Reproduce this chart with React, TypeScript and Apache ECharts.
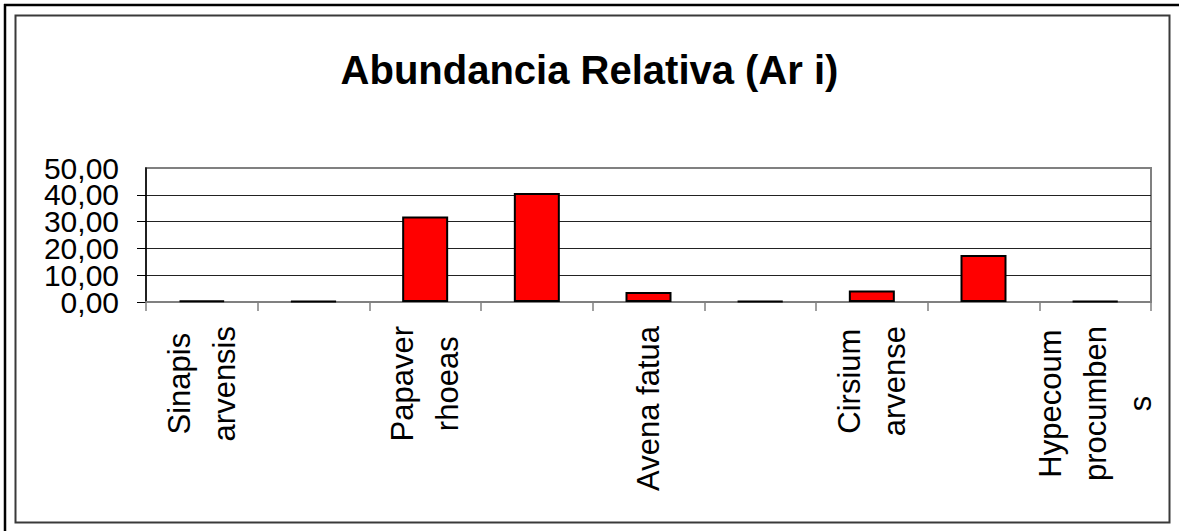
import React, { useEffect, useRef } from "react";
import * as echarts from "echarts";

const categories = [
  "Sinapis\narvensis",
  "",
  "Papaver\nrhoeas",
  "",
  "Avena fatua",
  "",
  "Cirsium\narvense",
  "",
  "Hypecoum\nprocumben\ns",
];
const values = [0.5, 0.3, 31.9, 40.7, 3.7, 0.3, 4.3, 17.5, 0.3];
const yTicks = { min: 0, max: 50, interval: 10 };
const titleText = "Abundancia Relativa (Ar i)";

const FONT = "'Liberation Sans', Arial, sans-serif";

const fmt = (v: number) => v.toFixed(2).replace(".", ",");

export default function App() {
  const ref = useRef<HTMLDivElement>(null);
  useEffect(() => {
    document.body.style.margin = "0";
    document.body.style.overflow = "hidden";
    if (!ref.current) return;
    const chart = echarts.init(ref.current, null, { renderer: "svg" });
    const labelBase = {
      margin: 27,
      color: "#000",
      fontFamily: FONT,
      fontSize: 30,
      lineHeight: 16,
      padding: [8, 0, 0, 0],
      hideOverlap: false,
    };
    chart.setOption({
      animation: false,
      backgroundColor: "#fff",
      title: {
        text: titleText,
        left: "center",
        top: 50,
        padding: 0,
        textStyle: { fontFamily: FONT, fontSize: 40, fontWeight: "bold", color: "#000" },
      },
      graphic: [
        {
          type: "line",
          silent: true,
          z: -10,
          shape: { x1: 4, y1: 5, x2: 1179, y2: 5 },
          style: { stroke: "#000", lineWidth: 2.5 },
        },
        {
          type: "line",
          silent: true,
          z: -10,
          shape: { x1: 5, y1: 4, x2: 5, y2: 531 },
          style: { stroke: "#000", lineWidth: 2.5 },
        },
        {
          type: "rect",
          silent: true,
          z: -10,
          shape: { x: 15.5, y: 15.5, width: 1154, height: 507 },
          style: { fill: "none", stroke: "#3a3a3a", lineWidth: 2 },
        },
      ],
      grid: {
        left: 146,
        right: 28,
        top: 168,
        bottom: 229,
        show: true,
        borderColor: "#808080",
        borderWidth: 2,
        backgroundColor: "transparent",
      },
      xAxis: {
        type: "category",
        data: categories,
        axisLine: { show: true, lineStyle: { color: "#808080", width: 2 } },
        axisTick: { show: true, interval: 0, length: 9, lineStyle: { color: "#808080", width: 1.5 } },
        axisLabel: {
          interval: 0,
          rotate: 90,
          margin: 24,
          color: "#000",
          fontFamily: FONT,
          fontSize: 31,
          lineHeight: 45,
          formatter: (v: string) =>
            v ? v.split("\n").map((l) => `{c|${l}}`).join("\n") : "",
          rich: {
            c: { align: "center", fontFamily: FONT, fontSize: 31, lineHeight: 45, color: "#000" },
          },
        },
        splitLine: { show: false },
      },
      yAxis: [
        {
          type: "value",
          position: "left",
          min: yTicks.min,
          max: yTicks.max,
          interval: yTicks.interval,
          axisLine: { show: true, lineStyle: { color: "#000", width: 1.5 } },
          axisTick: { show: true, length: 9, lineStyle: { color: "#000", width: 1 } },
          axisLabel: {
            ...labelBase,
            showMinLabel: true,
            showMaxLabel: false,
            formatter: (v: number) => (Math.round(v / yTicks.interval) % 2 === 0 ? fmt(v) : ""),
          },
          splitLine: { show: true, showMaxLine: false, lineStyle: { color: "#222", width: 1 } },
        },
        {
          type: "value",
          position: "left",
          offset: 0,
          min: yTicks.min,
          max: yTicks.max,
          interval: yTicks.interval,
          axisLine: { show: false },
          axisTick: { show: false },
          splitLine: { show: false },
          axisLabel: {
            ...labelBase,
            showMinLabel: false,
            showMaxLabel: true,
            formatter: (v: number) => (Math.round(v / yTicks.interval) % 2 === 1 ? fmt(v) : ""),
          },
        },
      ],
      series: [
        {
          type: "bar",
          yAxisIndex: 0,
          data: values,
          barWidth: 46,
          itemStyle: { color: "#ff0000", borderColor: "#000", borderWidth: 2 },
        },
      ],
    });
    return () => chart.dispose();
  }, []);
  return <div ref={ref} style={{ width: 1179, height: 531 }} />;
}
